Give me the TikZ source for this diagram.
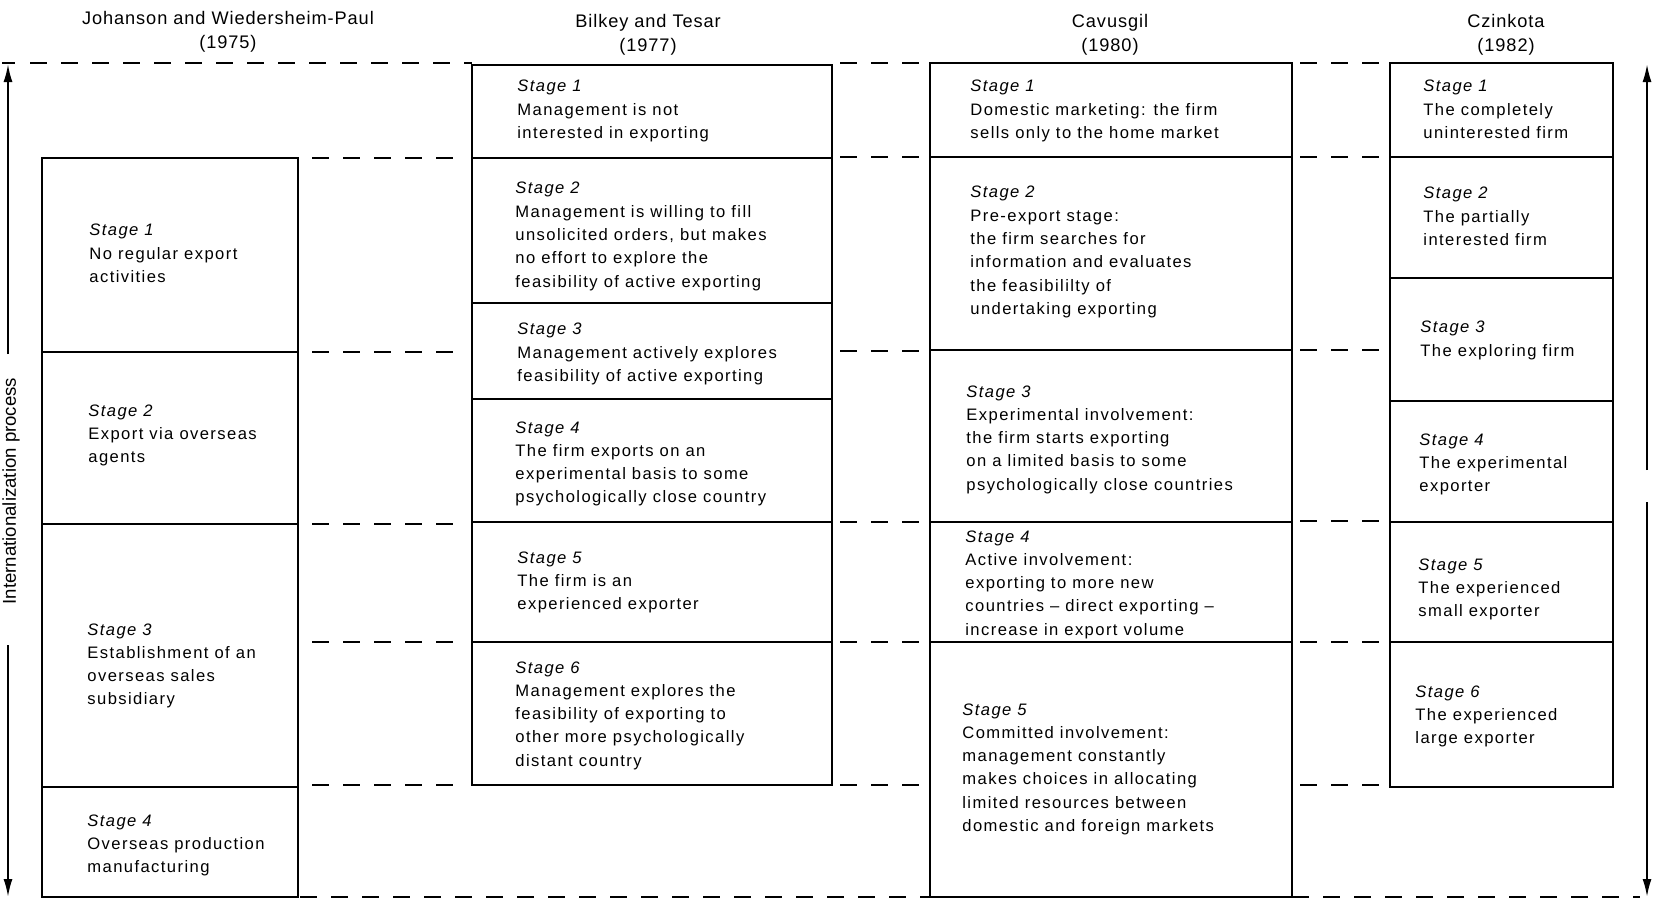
\documentclass[tikz,border=0pt]{standalone}
\usepackage{fontspec}
\setmainfont{Liberation Sans}
\newfontfamily\bodyfont[LetterSpace=8.5]{Liberation Sans}
\newfontfamily\headfont[LetterSpace=5]{Liberation Sans}
\usetikzlibrary{arrows.meta}
\begin{document}
\begin{tikzpicture}[x=0.5pt,y=-0.5pt,
  cell/.style={draw,line width=1pt},
  guide/.style={line width=1pt,dash pattern=on 8.5pt off 7pt},
  stagetext/.style={anchor=north west,inner sep=0pt,align=left,
    font=\bodyfont\fontsize{8.3}{11.65}\selectfont},
  headtext/.style={align=center,inner sep=0pt,
    font=\headfont\fontsize{9.1}{12.2}\selectfont},
  progress/.style={line width=1pt,-{Latex[length=9pt,width=4.5pt]}}]
\useasboundingbox (0,0) rectangle (1657,900);

% column headings
\node[headtext] (hJ) at (228,32) {Johanson and Wiedersheim-Paul\\(1975)};
\node[headtext] (hB) at (648,35) {Bilkey and Tesar\\(1977)};
\node[headtext] (hC) at (1110,35) {Cavusgil\\(1980)};
\node[headtext] (hZ) at (1506,35) {Czinkota\\(1982)};

% stage cells of the four models
\foreach \ya/\yb in {158/352,352/524,524/787,787/897}
  \draw[cell] (42,\ya) rectangle (298,\yb);
\foreach \ya/\yb in {65/158,158/303,303/399,399/522,522/642,642/785}
  \draw[cell] (472,\ya) rectangle (832,\yb);
\foreach \ya/\yb in {63/157,157/350,350/522,522/642,642/897}
  \draw[cell] (930,\ya) rectangle (1292,\yb);
\foreach \ya/\yb in {63/157,157/278,278/401,401/522,522/642,642/787}
  \draw[cell] (1390,\ya) rectangle (1613,\yb);

% dashed guides linking the stage boundaries
\draw[guide] (30,63) -- (472,63);
\foreach \y in {158,352,524,642,785} \draw[guide] (312,\y) -- (458,\y);
\foreach \y in {63,157,351,522,642,785} \draw[guide] (840,\y) -- (926,\y);
\foreach \y in {63,157,350,521,642,785} \draw[guide] (1300,\y) -- (1386,\y);
\draw[guide] (300,897) -- (930,897);
\draw[guide] (1292,897) -- (1640,897);

% Johanson and Wiedersheim-Paul
\node[stagetext] (J1) at (89,224) {\textit{Stage 1}\\No regular export\\activities};
\node[stagetext] (J2) at (88,404) {\textit{Stage 2}\\Export via overseas\\agents};
\node[stagetext] (J3) at (87,623) {\textit{Stage 3}\\Establishment of an\\overseas sales\\subsidiary};
\node[stagetext] (J4) at (87,814) {\textit{Stage 4}\\Overseas production\\manufacturing};

% Bilkey and Tesar
\node[stagetext] (B1) at (517,80) {\textit{Stage 1}\\Management is not\\interested in exporting};
\node[stagetext] (B2) at (515,182) {\textit{Stage 2}\\Management is willing to fill\\unsolicited orders, but makes\\no effort to explore the\\feasibility of active exporting};
\node[stagetext] (B3) at (517,323) {\textit{Stage 3}\\Management actively explores\\feasibility of active exporting};
\node[stagetext] (B4) at (515,421) {\textit{Stage 4}\\The firm exports on an\\experimental basis to some\\psychologically close country};
\node[stagetext] (B5) at (517,551) {\textit{Stage 5}\\The firm is an\\experienced exporter};
\node[stagetext] (B6) at (515,661) {\textit{Stage 6}\\Management explores the\\feasibility of exporting to\\other more psychologically\\distant country};

% Cavusgil
\node[stagetext] (C1) at (970,80) {\textit{Stage 1}\\Domestic marketing: the firm\\sells only to the home market};
\node[stagetext] (C2) at (970,186) {\textit{Stage 2}\\Pre-export stage:\\the firm searches for\\information and evaluates\\the feasibililty of\\undertaking exporting};
\node[stagetext] (C3) at (966,385) {\textit{Stage 3}\\Experimental involvement:\\the firm starts exporting\\on a limited basis to some\\psychologically close countries};
\node[stagetext] (C4) at (965,530) {\textit{Stage 4}\\Active involvement:\\exporting to more new\\countries – direct exporting –\\increase in export volume};
\node[stagetext] (C5) at (962,703) {\textit{Stage 5}\\Committed involvement:\\management constantly\\makes choices in allocating\\limited resources between\\domestic and foreign markets};

% Czinkota
\node[stagetext] (Z1) at (1423,80) {\textit{Stage 1}\\The completely\\uninterested firm};
\node[stagetext] (Z2) at (1423,187) {\textit{Stage 2}\\The partially\\interested firm};
\node[stagetext] (Z3) at (1420,321) {\textit{Stage 3}\\The exploring firm};
\node[stagetext] (Z4) at (1419,433) {\textit{Stage 4}\\The experimental\\exporter};
\node[stagetext] (Z5) at (1418,558) {\textit{Stage 5}\\The experienced\\small exporter};
\node[stagetext] (Z6) at (1415,685) {\textit{Stage 6}\\The experienced\\large exporter};

% process axis on the left
\node[rotate=90,inner sep=0pt,font=\fontsize{9.3}{11}\selectfont] (axis) at (11,491) {Internationalization process};
\coordinate (aTop) at (8,64);
\coordinate (aUp) at (8,354);
\coordinate (aDown) at (8,645);
\coordinate (aBot) at (8,897);
\draw[line width=1pt] (2,63) -- (15,63);
\draw[progress] (aUp) -- (aTop);
\draw[progress] (aDown) -- (aBot);

% axis on the right
\coordinate (rTop) at (1647,64);
\coordinate (rMidA) at (1647,470);
\coordinate (rMidB) at (1647,502);
\coordinate (rBot) at (1647,897);
\draw[progress] (rMidA) -- (rTop);
\draw[progress] (rMidB) -- (rBot);
\end{tikzpicture}
\end{document}
